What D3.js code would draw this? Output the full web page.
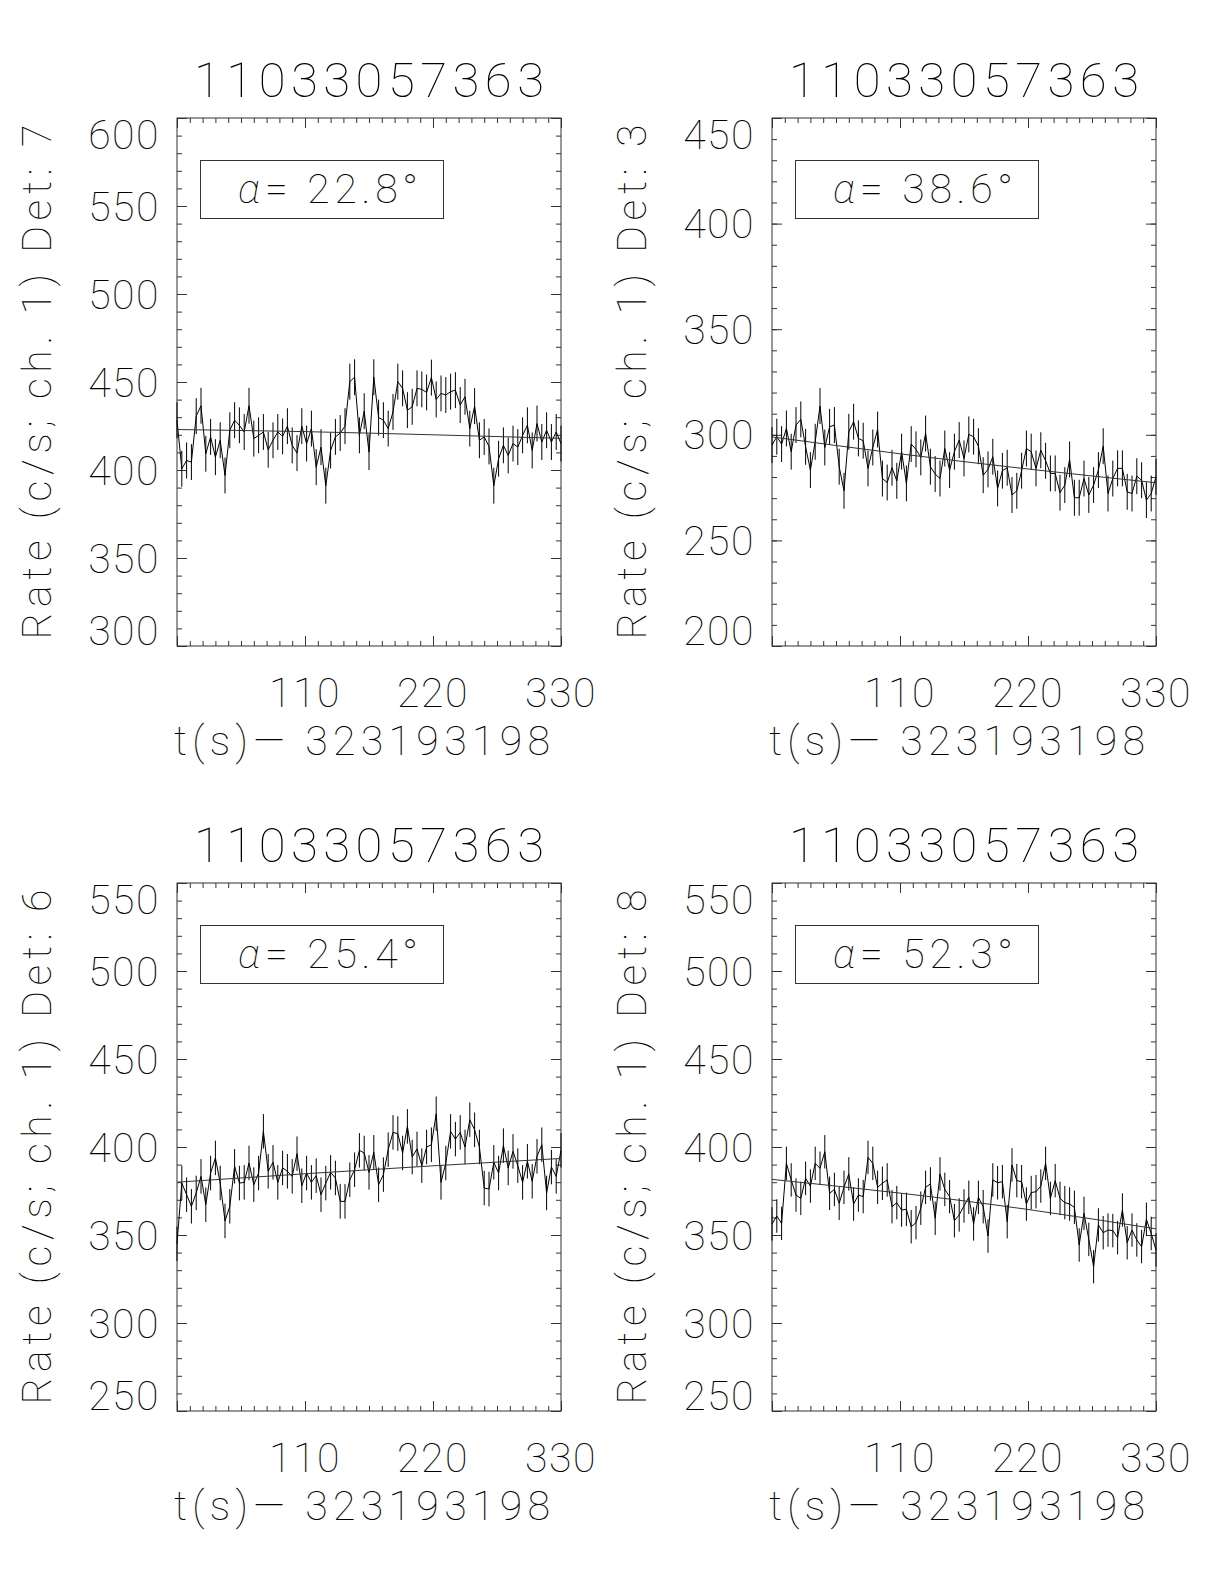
<!DOCTYPE html>
<html>
<head>
<meta charset="UTF-8">
<title>11033057363 light curves</title>
<script src="https://d3js.org/d3.v7.min.js"></script>
<style>
  body { margin: 0; background: #fff; }
  text { font-family: Roboto, "DejaVu Sans", sans-serif; font-weight: 100; fill: #000; }
</style>
</head>
<body>
<div class="chart"></div>
<script>
// ---- data ----
const obsId = "11033057363";
const timeZero = "323193198";
const detectors = [7, 3, 6, 8];
const alphas = ["22.8", "38.6", "25.4", "52.3"];
const yDomains = [[300, 600], [200, 450], [250, 550], [250, 550]];
const xTickValues = [110, 220, 330];
const binWidth = 4.125;   // s, 81 bins from 0 to 330

const rateDet7 = [
  428.3, 400.7, 405.4, 404.5, 430.6, 436.5, 409.2, 418.8, 407.3, 416.9,
  396.9, 422.6, 428.3, 425.4, 421.6, 436.5, 417.8, 419.7, 421.6, 411.5,
  416.9, 421.6, 419.1, 424.9, 414.0, 409.6, 424.9, 415.0, 423.5, 401.6,
  413.0, 391.1, 411.1, 418.8, 421.0, 424.9, 450.2, 452.7, 419.7, 433.4,
  410.2, 452.7, 429.8, 428.3, 423.5, 433.0, 450.2, 446.4, 434.0, 435.9,
  446.4, 445.8, 444.1, 452.5, 440.1, 443.5, 442.6, 444.5, 445.4, 436.9,
  441.6, 423.5, 436.3, 416.9, 418.8, 413.4, 391.1, 406.4, 414.0, 408.3,
  415.0, 413.0, 419.7, 425.4, 411.1, 426.4, 415.9, 422.6, 415.9, 421.6,
  415.0
];
const rateDet3 = [
  295.1, 299.1, 295.6, 303.0, 292.0, 304.6, 307.3, 294.3, 283.3, 296.7,
  313.6, 294.0, 303.8, 304.6, 284.9, 273.5, 301.4, 306.2, 298.3, 297.2,
  284.1, 294.0, 302.5, 279.3, 277.4, 284.4, 278.2, 292.0, 277.0, 295.6,
  293.1, 289.3, 300.6, 284.9, 281.4, 279.3, 293.5, 283.3, 292.0, 297.5,
  288.8, 300.2, 299.1, 294.6, 280.9, 283.6, 289.6, 274.6, 283.0, 284.4,
  271.5, 273.5, 283.0, 293.5, 292.0, 284.1, 292.7, 287.7, 281.7, 281.7,
  272.6, 276.2, 288.3, 270.2, 270.2, 279.3, 271.5, 276.2, 283.3, 294.6,
  272.2, 279.3, 284.1, 284.1, 273.0, 272.2, 280.4, 278.5, 269.1, 272.2,
  280.1
];
const rateDet6 = [
  345.0, 379.5, 372.9, 366.3, 373.9, 383.3, 367.2, 385.2, 393.8, 379.5,
  358.0, 366.3, 389.0, 379.5, 379.9, 390.9, 378.6, 385.2, 408.9, 386.2,
  391.3, 379.9, 388.1, 386.2, 383.3, 396.2, 378.0, 385.2, 379.9, 383.7,
  372.9, 379.5, 385.6, 382.4, 369.1, 369.1, 381.4, 387.1, 398.1, 396.6,
  385.6, 397.0, 378.6, 384.3, 398.5, 408.3, 407.6, 396.6, 411.7, 394.3,
  398.9, 389.4, 400.0, 401.3, 418.9, 379.9, 390.9, 408.9, 404.5, 408.3,
  400.0, 415.5, 409.8, 400.0, 376.7, 376.1, 391.3, 385.2, 400.8, 388.1,
  397.5, 389.4, 379.9, 391.9, 380.5, 394.7, 401.3, 373.9, 388.6, 383.3,
  398.1
];
const rateDet8 = [
  356.3, 360.8, 356.6, 390.7, 381.3, 372.7, 370.8, 382.2, 377.8, 390.7,
  387.9, 397.3, 373.7, 375.9, 368.0, 377.1, 384.7, 367.6, 372.7, 371.8,
  394.1, 390.7, 377.1, 379.4, 381.3, 366.1, 368.4, 364.2, 364.6, 354.7,
  357.0, 365.2, 377.1, 379.0, 359.5, 384.7, 375.9, 371.8, 358.1, 361.4,
  366.5, 371.4, 356.3, 371.4, 366.1, 349.4, 381.3, 379.7, 380.3, 357.6,
  389.8, 380.9, 380.3, 367.6, 374.1, 374.6, 377.8, 390.7, 370.8, 380.9,
  370.8, 368.4, 367.6, 365.7, 344.3, 362.3, 347.5, 332.0, 355.7, 351.3,
  352.8, 352.5, 348.5, 364.2, 345.6, 352.8, 347.2, 343.4, 358.9, 350.9,
  341.5
];
// half length of the error bars, one per panel
const rateErrors = [10.2, 8.5, 9.8, 9.5];

// background fit, sampled at a few times
const fitTimes = [0, 110, 220, 330];
const fitDet7 = [423.0, 421.8, 420.0, 418.0];
const fitDet3 = [299.0, 291.0, 283.8, 277.3];
const fitDet6 = [380.0, 384.8, 389.3, 393.5];
const fitDet8 = [381.6, 373.8, 364.5, 353.5];

// ---- layout ----
const W = 384, H = 528;
const panelLeft = [177, 772];
const panelTop = [118, 883];
const ink = "#333";

const panels = [
  {det: detectors[0], alpha: alphas[0], yDomain: yDomains[0], rates: rateDet7, err: rateErrors[0], fit: fitDet7, col: 0, row: 0},
  {det: detectors[1], alpha: alphas[1], yDomain: yDomains[1], rates: rateDet3, err: rateErrors[1], fit: fitDet3, col: 1, row: 0},
  {det: detectors[2], alpha: alphas[2], yDomain: yDomains[2], rates: rateDet6, err: rateErrors[2], fit: fitDet6, col: 0, row: 1},
  {det: detectors[3], alpha: alphas[3], yDomain: yDomains[3], rates: rateDet8, err: rateErrors[3], fit: fitDet8, col: 1, row: 1}
];

const svg = d3.select(".chart").append("svg")
  .attr("width", 1224)
  .attr("height", 1584);

const capH = 29;          // height of the digits in the tick labels
const labelSize = 41;
const titleSize = 49;

function drawPanel(p) {
  const g = svg.append("g")
    .attr("transform", `translate(${panelLeft[p.col]},${panelTop[p.row]})`);

  const x = d3.scaleLinear().domain([0, 330]).range([0, W]);
  const y = d3.scaleLinear().domain(p.yDomain).range([H, 0]);

  const xMinor = d3.range(0, 331, 11);
  const xMajor = d3.range(0, 331, 110);
  const yMinor = d3.range(p.yDomain[0], p.yDomain[1] + 1, 10);
  const yMajor = d3.range(p.yDomain[0], p.yDomain[1] + 1, 50);

  // ticks on all four sides, pointing in
  const axes = [
    [d3.axisBottom(x), `translate(0,${H})`, xMinor, xMajor],
    [d3.axisTop(x), "translate(0,0)", xMinor, xMajor],
    [d3.axisLeft(y), "translate(0,0)", yMinor, yMajor],
    [d3.axisRight(y), `translate(${W},0)`, yMinor, yMajor]
  ];
  axes.forEach(([ax, tr, minor, major]) => {
    g.append("g").attr("transform", tr).attr("color", ink)
      .call(ax.tickValues(minor).tickSizeInner(-5).tickSizeOuter(0).tickFormat(""))
      .call(s => s.select(".domain").remove());
    g.append("g").attr("transform", tr).attr("color", ink)
      .call(ax.tickValues(major).tickSizeInner(-10).tickSizeOuter(0).tickFormat(""))
      .call(s => s.select(".domain").remove());
  });

  g.append("rect")
    .attr("width", W).attr("height", H)
    .attr("fill", "none").attr("stroke", ink);

  // tick labels
  g.selectAll(".ylab").data(yMajor).join("text")
    .attr("class", "ylab")
    .attr("x", -17)
    .attr("y", d => {
      const c = Math.min(Math.max(y(d), capH / 2 + 2), H - capH / 2 - 1);
      return c + capH / 2;
    })
    .attr("text-anchor", "end")
    .attr("font-size", labelSize)
    .attr("letter-spacing", 1.5)
    .text(d => d);

  g.selectAll(".xlab").data(xTickValues).join("text")
    .attr("class", "xlab")
    .attr("x", d => x(d))
    .attr("y", H + 61)
    .attr("text-anchor", "middle")
    .attr("font-size", labelSize)
    .attr("letter-spacing", 1.5)
    .text(d => d);

  // titles
  g.append("text")
    .attr("x", W / 2).attr("y", -21)
    .attr("text-anchor", "middle")
    .attr("font-size", titleSize)
    .attr("textLength", 350).attr("lengthAdjust", "spacing")
    .text(obsId);

  g.append("text")
    .attr("x", W / 2 - 7).attr("y", H + 109)
    .attr("text-anchor", "middle")
    .attr("font-size", labelSize)
    .attr("textLength", 376).attr("lengthAdjust", "spacing")
    .text(`t(s)\u2014 ${timeZero}`);

  g.append("text")
    .attr("transform", `translate(-126,${H / 2}) rotate(-90)`)
    .attr("text-anchor", "middle")
    .attr("font-size", labelSize)
    .attr("textLength", 515).attr("lengthAdjust", "spacing")
    .text(`Rate (c/s; ch. 1) Det: ${p.det}`);

  // angle box
  g.append("rect")
    .attr("x", 23.5).attr("y", 42.5)
    .attr("width", 243).attr("height", 58)
    .attr("fill", "none").attr("stroke", ink);
  const at = g.append("text")
    .attr("x", 61).attr("y", 85)
    .attr("font-size", labelSize)
    .attr("textLength", 180).attr("lengthAdjust", "spacing");
  at.append("tspan").attr("font-style", "italic").text("\u03b1");
  at.append("tspan").text(`= ${p.alpha}\u00b0`);

  // light curve
  const pts = p.rates.map((r, i) => ({t: i * binWidth, r: r}));

  g.selectAll(".err").data(pts).join("line")
    .attr("class", "err")
    .attr("x1", d => x(d.t)).attr("x2", d => x(d.t))
    .attr("y1", d => y(d.r - p.err)).attr("y2", d => y(d.r + p.err))
    .attr("stroke", "#000").attr("stroke-width", 1);

  g.append("path")
    .datum(pts)
    .attr("fill", "none").attr("stroke", "#000").attr("stroke-width", 1)
    .attr("d", d3.line().x(d => x(d.t)).y(d => y(d.r)));

  g.append("path")
    .datum(fitTimes.map((t, i) => ({t: t, r: p.fit[i]})))
    .attr("fill", "none").attr("stroke", "#333").attr("stroke-width", 1)
    .attr("d", d3.line().curve(d3.curveNatural).x(d => x(d.t)).y(d => y(d.r)));
}

panels.forEach(drawPanel);
</script>
</body>
</html>
